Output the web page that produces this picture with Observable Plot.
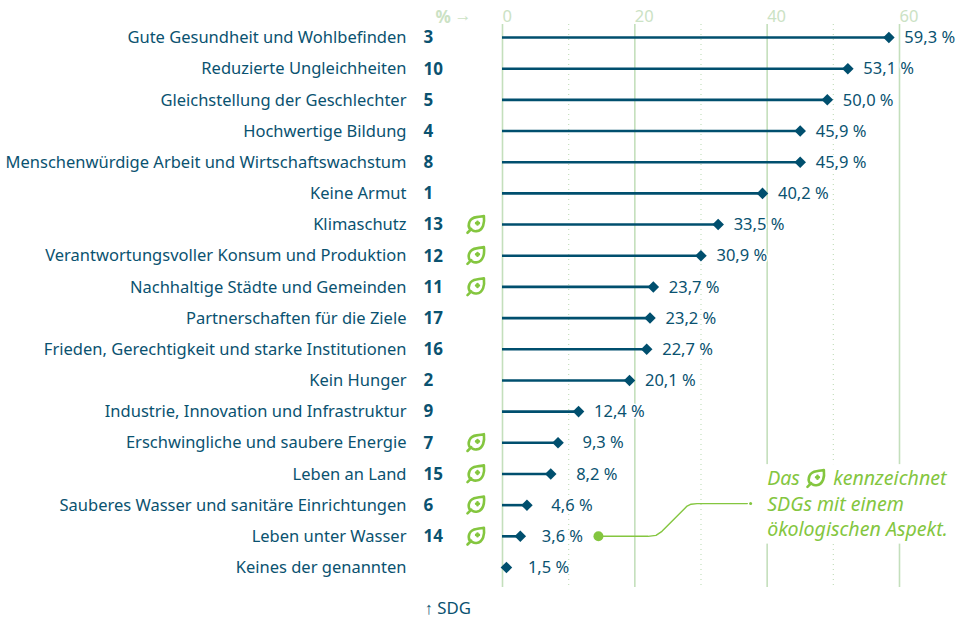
<!DOCTYPE html>
<html><head><meta charset="utf-8">
<script src="https://cdn.jsdelivr.net/npm/d3@7"></script>
<script src="https://cdn.jsdelivr.net/npm/@observablehq/plot@0.6"></script>
<style>
html,body{margin:0;padding:0;background:#fff}
svg{display:block}
</style></head><body><div id="chart"></div>
<script>
const names = ["Gute Gesundheit und Wohlbefinden","Reduzierte Ungleichheiten","Gleichstellung der Geschlechter","Hochwertige Bildung","Menschenwürdige Arbeit und Wirtschaftswachstum","Keine Armut","Klimaschutz","Verantwortungsvoller Konsum und Produktion","Nachhaltige Städte und Gemeinden","Partnerschaften für die Ziele","Frieden, Gerechtigkeit und starke Institutionen","Kein Hunger","Industrie, Innovation und Infrastruktur","Erschwingliche und saubere Energie","Leben an Land","Sauberes Wasser und sanitäre Einrichtungen","Leben unter Wasser","Keines der genannten"];
const sdg = ["3","10","5","4","8","1","13","12","11","17","16","2","9","7","15","6","14",""];
const values = [59.3,53.1,50.0,45.9,45.9,40.2,33.5,30.9,23.7,23.2,22.7,20.1,12.4,9.3,8.2,4.6,3.6,1.5];
const ecoRows = [6,7,8,13,14,15,16];
const majorTicks = [0,20,40,60];
const minorTicks = [10,30,50];
const noteLines = ["Das","kennzeichnet","SDGs mit einem","ökologischen Aspekt."];
const noteX = [40,50,40,40];
const noteRow = [14.16,14.16,14.98,15.8];
const calloutX = [14.5,22,23.2,24.1,27.9,28.5,29.4,37];
const calloutY = [16,16,15.97,15.84,15.03,14.97,14.95,14.95];
const shiftedRows = {13:1.35,14:1.5,15:1.35,16:0.9,17:0.9};

const FONT = "'Noto Sans', sans-serif";
const INK = "#0a5270", DARK = "#004f6e", GREEN = "#84c63f", LIGHT = "#c4dfbc", AXISTXT = "#cbe2c4";
const rows = names.map((n,i)=>({row:i,name:n,sdg:sdg[i],v:values[i]}));
const eco = ecoRows.map(r=>({row:r}));
const fmt = v => v.toFixed(1).replace(".",",") + "\u00a0%";
const TIP = 0.9;

const leaf = {draw(c,size){
  const s = Math.sqrt(size/Math.PI)/10;
  const P = (f,...a)=>c[f](...a.map(v=>v*s));
  P("moveTo",-5.6,4.6);
  P("bezierCurveTo",-8.4,0,-6,-6.6,1,-7.4);
  P("bezierCurveTo",4,-7.8,6.8,-8.2,8.4,-8.6);
  P("bezierCurveTo",9.2,-2,8,5.8,1,6.6);
  P("bezierCurveTo",-0.6,6.8,-2,6.4,-3,5.8);
  P("moveTo",-8,8.2);
  P("lineTo",-4.2,4.4);
  P("moveTo",0.6,-1.4);P("lineTo",3.4,-1.4);
  P("moveTo",2,-2.8);P("lineTo",2,0);
}};

const plot = Plot.plot({
  width:957,height:618,
  marginLeft:502,marginRight:58,marginTop:24,marginBottom:31,
  style:{fontFamily:FONT,background:"#fff",overflow:"visible"},
  x:{domain:[0,60],range:[502,899]},
  y:{domain:[0,17],range:[37,567]},
  marks:[
    Plot.ruleX(majorTicks,{y1:-0.42,y2:17.64,stroke:LIGHT,strokeWidth:1.6}),
    Plot.ruleX(minorTicks,{y1:-0.42,y2:17.64,stroke:LIGHT,strokeWidth:1.2,strokeDasharray:"1 4"}),
    Plot.axisX(majorTicks,{anchor:"top",tickSize:0,tickPadding:0,textAnchor:"start",dx:0,dy:-2.5,label:null,fontSize:16.5,fill:AXISTXT}),
    Plot.axisY(rows.map(d=>d.row),{anchor:"left",tickSize:0,tickPadding:96,label:null,tickFormat:i=>names[i],fontSize:16.5,fill:INK,textAnchor:"end",dy:0.4}),
    Plot.text(["%"],{x:0,y:-0.65,text:d=>d,dx:-67,textAnchor:"start",fontSize:17,fontWeight:700,fill:AXISTXT}),
    Plot.text(["→"],{x:0,y:-0.72,text:d=>d,dx:-48,textAnchor:"start",fontSize:17,fill:AXISTXT}),
    Plot.text(rows,{x:()=>0,y:"row",text:"sdg",dx:-79,dy:0.4,textAnchor:"start",fontSize:17,fontWeight:700,fill:INK}),
    Plot.dot(eco,{x:()=>0,y:"row",dx:-27,r:10,symbol:leaf,fill:"none",stroke:GREEN,strokeWidth:2.6,strokeLinecap:"round",strokeLinejoin:"round"}),
    Plot.ruleY(rows,{y:"row",x1:0,x2:d=>Math.max(d.v-TIP,0),stroke:DARK,strokeWidth:2.6}),
    Plot.dot(rows,{x:"v",y:"row",dx:-6,r:5.2,symbol:"diamond2",fill:DARK,stroke:"none"}),
    Plot.text(rows,{x:d=>d.v+(shiftedRows[d.row]||0),y:"row",text:d=>fmt(d.v),dx:9.5,dy:0.4,textAnchor:"start",fontSize:16.5,fill:INK,stroke:"#fff",strokeWidth:3,paintOrder:"stroke"}),
    Plot.text(["↑ SDG"],{x:0,y:18.31,text:d=>d,dx:-78,textAnchor:"start",fontSize:16.8,fill:INK}),
    Plot.rect([{}],{x1:39.4,x2:69,y1:13.7,y2:16.25,fill:"#fff"}),
    Plot.line(calloutX.map((x,i)=>({x,y:calloutY[i]})),{x:"x",y:"y",stroke:GREEN,strokeWidth:1.4}),
    Plot.dot([{x:14.5,y:16}],{x:"x",y:"y",r:5,fill:GREEN,stroke:"none"}),
    Plot.dot([{x:37.5,y:14.95}],{x:"x",y:"y",r:1.5,fill:GREEN,stroke:"none"}),
    Plot.text(noteLines,{x:(d,i)=>noteX[i],y:(d,i)=>noteRow[i],text:d=>d,textAnchor:"start",fontSize:19.6,fontStyle:"italic",fill:GREEN}),
    Plot.dot([{x:47.3,y:14.15}],{x:"x",y:"y",r:10,symbol:leaf,fill:"none",stroke:GREEN,strokeWidth:2.6,strokeLinecap:"round",strokeLinejoin:"round"})
  ]
});
document.getElementById("chart").append(plot);
</script></body></html>
